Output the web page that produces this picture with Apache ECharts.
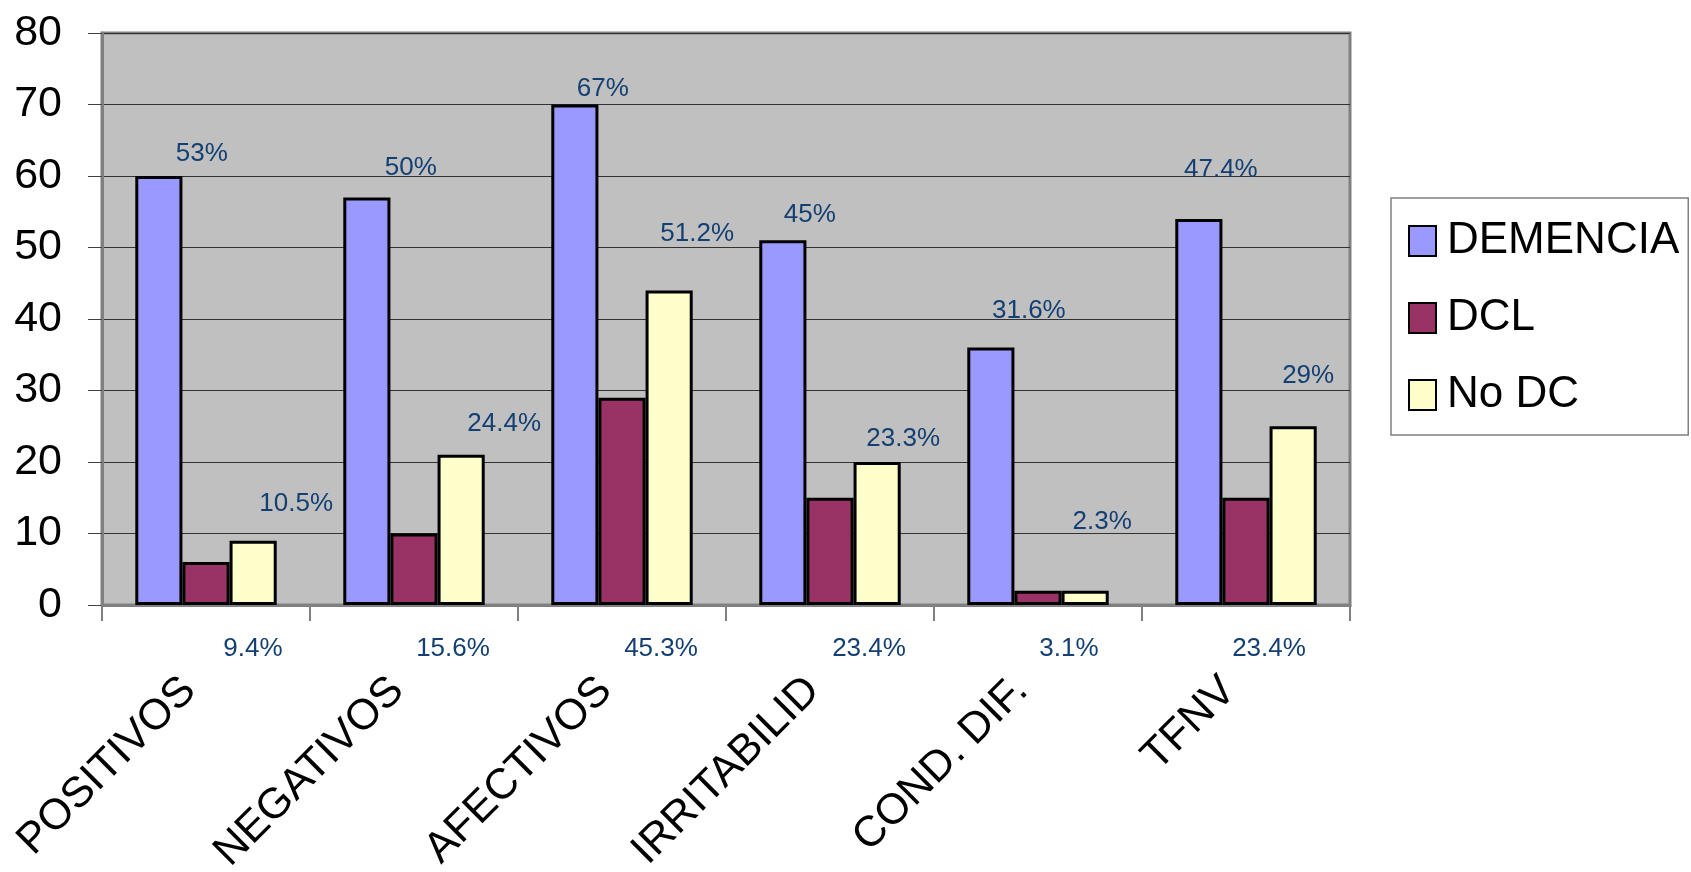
<!DOCTYPE html>
<html>
<head>
<meta charset="utf-8">
<script src="https://cdn.jsdelivr.net/npm/echarts@6/dist/echarts.min.js"></script>
<style>
  html, body { margin: 0; padding: 0; background: #ffffff; }
  #chart { width: 1691px; height: 872px; }
</style>
</head>
<body>
<div id="chart"></div>
<script>
// Symptom groups on the category axis
const categories = ['POSITIVOS', 'NEGATIVOS', 'AFECTIVOS', 'IRRITABILID', 'COND. DIF.', 'TFNV'];

// Bar heights per group
const demencia = [60, 57, 70, 51, 36, 54];
const dcl      = [6, 10, 29, 15, 2, 15];
const noDc     = [9, 21, 44, 20, 2, 25];

// Percentage labels shown next to each series
const pctDemencia = ['53%', '50%', '67%', '45%', '31.6%', '47.4%'];
const pctDcl      = ['9.4%', '15.6%', '45.3%', '23.4%', '3.1%', '23.4%'];
const pctNoDc     = ['10.5%', '24.4%', '51.2%', '23.3%', '2.3%', '29%'];

// Value axis ticks
const yTicks = { min: 0, max: 80, step: 10 };

// Label placement (pixels from the bar's top / base)
const nudgeDemencia = [[43, -22], [44, -30], [28, -16], [27, -26], [38, -37], [22, -49]];
const nudgeDcl      = [[47, 44], [39, 44], [39, 44], [39, 44], [31, 44], [23, 44]];
const nudgeNoDc     = [[43, -37], [43, -31], [28, -57], [26, -23], [17, -69], [15, -50]];

const FONT = "'Liberation Sans', Arial, sans-serif";
const LABEL_COLOR = '#133f72';

function items(values, nudges) {
  return values.map((v, i) => ({ value: v, label: { offset: nudges[i] } }));
}

function barSeries(name, color, values, pct, nudges, pos) {
  return {
    name: name,
    type: 'bar',
    data: items(values, nudges),
    barGap: '0%',
    barCategoryGap: '32%',
    itemStyle: { color: color, borderColor: '#000000', borderWidth: 3 },
    label: {
      show: true,
      position: pos,
      distance: 0,
      align: 'center',
      verticalAlign: 'middle',
      fontFamily: FONT,
      fontSize: 26,
      color: LABEL_COLOR,
      formatter: p => pct[p.dataIndex]
    },
    emphasis: { disabled: true },
    animation: false
  };
}

const chart = echarts.init(document.getElementById('chart'), null, { renderer: 'canvas' });

chart.setOption({
  backgroundColor: '#ffffff',
  animation: false,
  textStyle: { fontFamily: FONT },
  grid: {
    left: 102, right: 341, top: 33, bottom: 267,
    containLabel: false,
    outerBoundsMode: 'none',
    show: true,
    backgroundColor: '#c0c0c0',
    borderColor: '#808080',
    borderWidth: 3
  },
  legend: {
    orient: 'vertical',
    left: 1391,
    top: 198,
    padding: [21, 9, 18, 17],
    backgroundColor: '#ffffff',
    borderColor: '#808080',
    borderWidth: 1.5,
    itemWidth: 27,
    itemHeight: 30,
    itemGap: 33,
    icon: 'rect',
    textStyle: { fontFamily: FONT, fontSize: 44, color: '#000000', lineHeight: 44, padding: [0, 0, 0, 6] },
    data: ['DEMENCIA', 'DCL', 'No DC']
  },
  xAxis: {
    type: 'category',
    data: categories,
    axisLine: { show: true, lineStyle: { color: '#808080', width: 3 } },
    axisTick: { show: true, length: 16, lineStyle: { color: '#808080', width: 2 } },
    axisLabel: {
      interval: 0,
      rotate: 45,
      margin: 62,
      padding: [0, 24, 48, 0],
      fontFamily: FONT,
      fontSize: 43,
      color: '#000000'
    },
    splitLine: { show: false }
  },
  yAxis: {
    type: 'value',
    min: yTicks.min,
    max: yTicks.max,
    interval: yTicks.step,
    axisLine: { show: true, lineStyle: { color: '#808080', width: 3 } },
    axisTick: { show: true, length: 14, lineStyle: { color: '#404040', width: 1 } },
    axisLabel: {
      margin: 40,
      padding: [0, 0, 10, 0],
      fontFamily: FONT,
      fontSize: 43,
      color: '#000000'
    },
    splitLine: { show: true, lineStyle: { color: '#333333', width: 1 } }
  },
  series: [
    barSeries('DEMENCIA', '#9999ff', demencia, pctDemencia, nudgeDemencia, 'top'),
    barSeries('DCL', '#993366', dcl, pctDcl, nudgeDcl, 'bottom'),
    barSeries('No DC', '#ffffcc', noDc, pctNoDc, nudgeNoDc, 'top')
  ]
});
</script>
</body>
</html>
